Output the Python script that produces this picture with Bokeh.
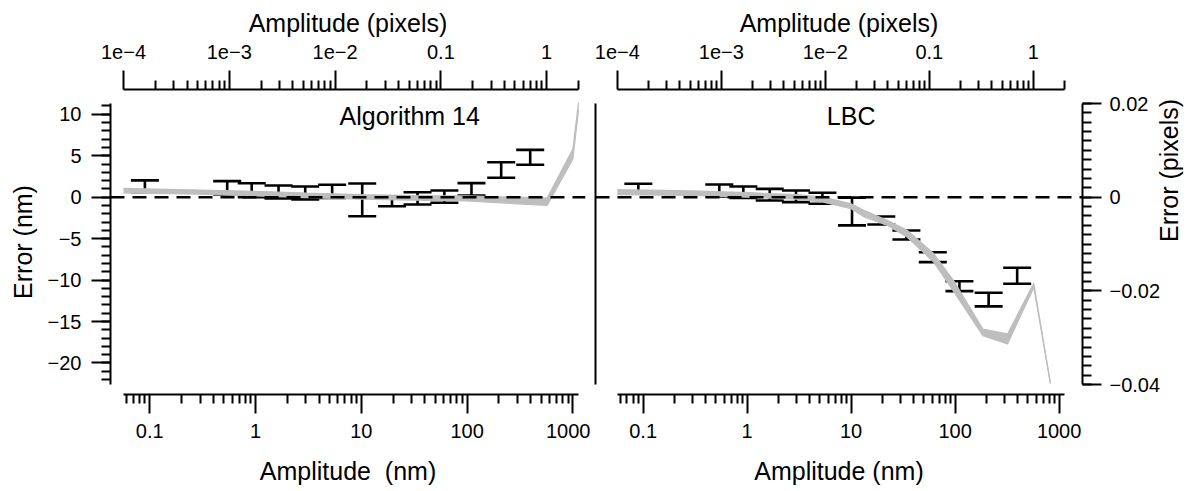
import math
from bokeh.plotting import figure
from bokeh.models import (ColumnDataSource, Whisker, TeeHead, Span, Label, Range1d,
                          LogScale, LinearScale, LogAxis, LinearAxis, FixedTicker)
from bokeh.layouts import row
from bokeh.embed import file_html
from bokeh.resources import INLINE

# ---------------- data ----------------
NM_PER_PX = 565.0                      # nm per camera pixel (links the two axis systems)

amp_nm = [0.09, 0.54, 0.92, 1.65, 2.95, 5.3, 10.2, 19.5, 34, 61, 110, 210, 395]

alg14_err = [1.31, 1.13, 0.84, 0.63, 0.51, 0.70, -0.33, -0.50, -0.14, 0.06, 0.95, 3.28, 4.81]
alg14_sd = [0.71, 0.80, 0.84, 0.78, 0.78, 0.80, 1.97, 0.60, 0.74, 0.74, 0.74, 0.94, 0.90]

lbc_err = [1.07, 0.81, 0.60, 0.30, 0.10, -0.13, -1.73, -2.81, -4.56, -7.24, -10.74, -12.36, -9.48]
lbc_sd = [0.54, 0.72, 0.68, 0.70, 0.70, 0.66, 1.67, 0.48, 0.54, 0.60, 0.60, 0.82, 0.97]

alg14_band_nm = [0.0565, 0.3, 1, 3, 10, 30, 100, 300, 571, 1000, 1130]
alg14_band_hi = [1.05, 0.85, 0.70, 0.50, 0.30, 0.20, 0.15, 0.00, -0.10, 5.8, 11.4]
alg14_band_lo = [0.50, 0.35, 0.15, -0.05, -0.25, -0.35, -0.45, -0.80, -1.00, 4.6, 10.5]

lbc_band_nm = [0.0565, 0.3, 1, 3, 5.4, 10, 13.4, 22.3, 34.5, 62, 96, 185, 319, 571, 824]
lbc_band_hi = [0.90, 0.75, 0.55, 0.30, 0.00, -0.80, -1.60, -2.80, -4.00, -6.80, -10.0, -15.9, -16.5, -10.4, -22.4]
lbc_band_lo = [0.30, 0.20, 0.00, -0.25, -0.60, -1.40, -2.40, -3.40, -4.80, -7.80, -11.3, -16.7, -17.7, -10.9, -22.5]

nm_major = [0.1, 1, 10, 100, 1000]
nm_major_labels = ["0.1", "1", "10", "100", "1000"]
px_major = [1e-4, 1e-3, 1e-2, 0.1, 1]
px_major_labels = ["1e\u22124", "1e\u22123", "1e\u22122", "0.1", "1"]
err_nm_major = [10, 5, 0, -5, -10, -15, -20]
err_nm_labels = ["10", "5", "0", "\u22125", "\u221210", "\u221215", "\u221220"]
err_px_major = [0.02, 0, -0.02, -0.04]
err_px_labels = ["0.02", "0", "\u22120.02", "\u22120.04"]

# ---------------- layout constants ----------------
FONT = "Liberation Sans"
GREY = "#BEBEBE"
XMIN_PX, XMAX_PX = 1e-4, 2.0
XMIN, XMAX = XMIN_PX * NM_PER_PX, XMAX_PX * NM_PER_PX
YMAX_PX, YMIN_PX = 0.02, -0.04
YMAX, YMIN = YMAX_PX * NM_PER_PX, YMIN_PX * NM_PER_PX
H = 490
TOP = 89
FRAME_H = 305
BOTTOM = H - TOP - FRAME_H
ypp = 281.0 / (YMAX - YMIN)
Y0 = YMIN - 10 / ypp
Y1 = YMAX + 14 / ypp


def log_minors(lo, hi, e0, e1):
    out = []
    for e in range(e0, e1 + 1):
        for k in range(2, 10):
            v = k * 10.0 ** e
            if lo * 0.999 <= v <= hi * 1.001:
                out.append(v)
    return out


def style(ax):
    ax.axis_line_width = 2
    ax.axis_line_color = "black"
    ax.major_tick_line_width = 2
    ax.minor_tick_line_width = 2
    ax.major_tick_line_color = "black"
    ax.minor_tick_line_color = "black"
    ax.major_tick_out = 19
    ax.major_tick_in = 0
    ax.minor_tick_out = 9
    ax.minor_tick_in = 0
    ax.major_label_text_font = FONT
    ax.major_label_text_font_size = "20px"
    ax.major_label_text_color = "black"
    ax.axis_label_text_font = FONT
    ax.axis_label_text_font_size = "25px"
    ax.axis_label_text_font_style = "normal"
    ax.axis_label_text_color = "black"
    ax.major_label_standoff = 7
    ax.axis_label_standoff = 5
    return ax


def panel(width, left_b, right_b, pad_l, pad_r, data_w, amp, err, sd,
          bnm, bhi, blo, title, title_x, bottom_label, left_labels, right_axis):
    dec = math.log10(XMAX / XMIN)
    ppd = data_w / dec
    x0 = XMIN * 10 ** (-pad_l / ppd)
    x1 = XMAX * 10 ** (pad_r / ppd)
    p = figure(width=width, height=H, x_axis_type="log",
               x_axis_location=None, y_axis_location=None,
               x_range=Range1d(x0, x1), y_range=Range1d(Y0, Y1),
               output_backend="svg", toolbar_location=None,
               min_border_left=left_b, min_border_right=right_b,
               min_border_top=TOP, min_border_bottom=BOTTOM)
    p.outline_line_color = None
    p.grid.visible = False
    p.background_fill_color = "white"
    p.border_fill_color = "white"

    p.extra_x_ranges = {"px": Range1d(x0 / NM_PER_PX, x1 / NM_PER_PX)}
    p.extra_x_scales = {"px": LogScale()}
    p.extra_y_ranges = {"pxy": Range1d(Y0 / NM_PER_PX, Y1 / NM_PER_PX)}
    p.extra_y_scales = {"pxy": LinearScale()}

    # bottom axis (nm)
    bax = style(LogAxis(ticker=FixedTicker(ticks=nm_major,
                                           minor_ticks=log_minors(XMIN, XMAX, -2, 3))))
    bax.major_label_overrides = {float(t): l for t, l in zip(nm_major, nm_major_labels)}
    bax.bounds = (XMIN, XMAX)
    bax.axis_label = bottom_label
    bax.major_label_standoff = 10
    bax.axis_label_standoff = 16
    p.add_layout(bax, "below")

    # top axis (pixels)
    tax = style(LogAxis(x_range_name="px",
                        ticker=FixedTicker(ticks=px_major,
                                           minor_ticks=log_minors(XMIN_PX, XMAX_PX, -4, 0))))
    tax.major_label_overrides = {float(t): l for t, l in zip(px_major, px_major_labels)}
    tax.bounds = (XMIN_PX, XMAX_PX)
    tax.axis_label = "Amplitude (pixels)"
    tax.major_label_standoff = 12
    tax.axis_label_standoff = 5
    p.add_layout(tax, "above")

    # left axis
    if left_labels:
        lax = style(LinearAxis(ticker=FixedTicker(ticks=err_nm_major,
                                                  minor_ticks=list(range(-22, 12)))))
        lax.major_label_overrides = {float(t): l for t, l in zip(err_nm_major, err_nm_labels)}
        lax.axis_label = "Error (nm)"
        lax.major_label_standoff = 10
        lax.axis_label_standoff = 8
    else:
        lax = style(LinearAxis(ticker=FixedTicker(ticks=[])))
        lax.major_tick_out = 0
        lax.minor_tick_out = 0
        lax.major_label_text_color = None
    lax.bounds = (YMIN, YMAX)
    p.add_layout(lax, "left")

    if right_axis:
        minors = [round(-0.04 + 0.002 * i, 4) for i in range(31)]
        rax = style(LinearAxis(y_range_name="pxy",
                               ticker=FixedTicker(ticks=err_px_major, minor_ticks=minors)))
        rax.major_label_overrides = {float(t): l for t, l in zip(err_px_major, err_px_labels)}
        rax.bounds = (YMIN_PX, YMAX_PX)
        rax.axis_label = "Error (pixels)"
        rax.axis_label_orientation = math.pi / 2
        rax.major_label_standoff = 8
        rax.axis_label_standoff = 6
        p.add_layout(rax, "right")

    # theoretical band
    bsrc = ColumnDataSource(dict(x=bnm, hi=bhi, lo=blo))
    p.varea(x="x", y1="lo", y2="hi", source=bsrc, fill_color=GREY)
    p.line(x="x", y="hi", source=bsrc, line_color=GREY, line_width=1.2)
    p.line(x="x", y="lo", source=bsrc, line_color=GREY, line_width=1.2)

    # zero reference
    p.add_layout(Span(location=0, dimension="width", line_color="black",
                      line_width=2.5, line_dash="14 8"))

    # error bars
    src = ColumnDataSource(dict(x=amp, upper=[e + s for e, s in zip(err, sd)],
                                lower=[e - s for e, s in zip(err, sd)]))
    w = Whisker(source=src, base="x", upper="upper", lower="lower", dimension="height",
                line_color="black", line_width=2.6,
                upper_head=TeeHead(size=28, line_width=2.6, line_color="black"),
                lower_head=TeeHead(size=28, line_width=2.6, line_color="black"))
    p.add_layout(w)

    p.add_layout(Label(x=title_x, y=9.8, text=title, text_align="center",
                       text_baseline="alphabetic", text_font=FONT,
                       text_font_size="25px", text_color="black"))
    return p


p1 = panel(590, 110, 5, 13, 7, 455, amp_nm, alg14_err, alg14_sd,
           alg14_band_nm, alg14_band_hi, alg14_band_lo,
           "Algorithm 14", 28.7, "Amplitude\u00a0 (nm)", True, False)
p2 = panel(610, 5, 114, 22, 18, 451, amp_nm, lbc_err, lbc_sd,
           lbc_band_nm, lbc_band_hi, lbc_band_lo,
           "LBC", 10.0, "Amplitude (nm)", False, True)

layout = row(p1, p2)
open("out.html", "w").write(file_html(layout, INLINE))
